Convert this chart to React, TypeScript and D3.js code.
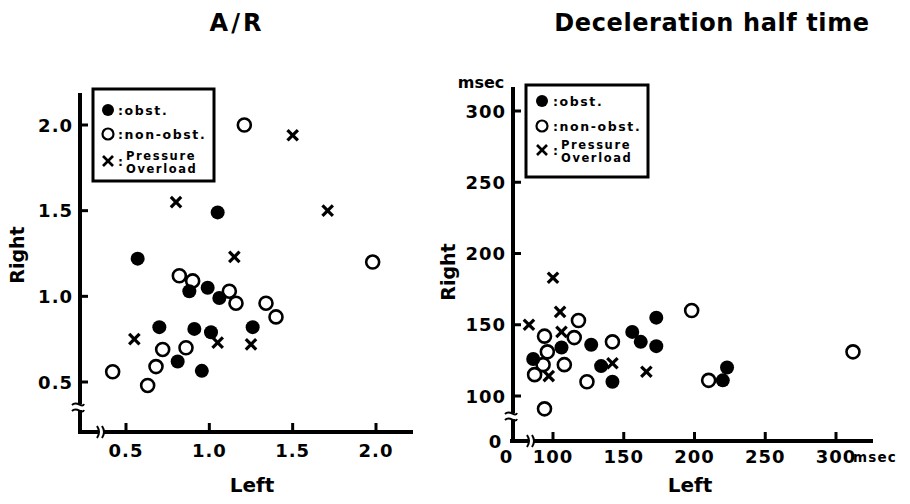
import React from "react";
import * as d3 from "d3";

// ---------- data ----------
const arTickValues = [0.5, 1.0, 1.5, 2.0];
const arTickLabels = ["0.5", "1.0", "1.5", "2.0"];

const dhtTickValues = [100, 150, 200, 250, 300];
const dhtXTickLabels = ["100", "150", "200", "250", "300"];
const dhtYTickLabels = ["100", "150", "200", "250", "300"];

// A/R panel
const arObstLeft = [1.05, 0.57, 0.88, 0.99, 1.06, 0.7, 0.91, 1.01, 1.26, 0.81, 0.955];
const arObstRight = [1.49, 1.22, 1.03, 1.05, 0.99, 0.82, 0.81, 0.79, 0.82, 0.62, 0.565];
const arNonLeft = [1.21, 1.98, 0.82, 0.9, 1.12, 1.16, 1.34, 1.4, 0.72, 0.86, 0.68, 0.42, 0.63];
const arNonRight = [2.0, 1.2, 1.12, 1.09, 1.03, 0.96, 0.96, 0.88, 0.69, 0.7, 0.59, 0.56, 0.48];
const arPoLeft = [1.5, 0.8, 1.71, 1.15, 0.55, 1.05, 1.25];
const arPoRight = [1.94, 1.55, 1.5, 1.23, 0.75, 0.73, 0.72];

// Deceleration half time panel (msec)
const dhtObstLeft = [86, 106, 127, 134, 142, 156, 162, 173, 173, 220, 223];
const dhtObstRight = [126, 134, 136, 121, 110, 145, 138, 155, 135, 111, 120];
const dhtNonLeft = [94, 96, 93, 87, 94, 108, 115, 118, 124, 142, 198, 210, 312];
const dhtNonRight = [142, 131, 122, 115, 91, 122, 141, 153, 110, 138, 160, 111, 131];
const dhtPoLeft = [100, 83, 105, 106, 97, 142, 166];
const dhtPoRight = [183, 150, 159, 145, 114, 123, 117];

const titles = ["A/R", "Deceleration half time"];
const legendObst = ":obst.";
const legendNon = ":non-obst.";
const legendPo = ["Pressure", "Overload"];

const FONT = "'DejaVu Sans', sans-serif";

type Cfg = {
  title: string;
  titleX: number;
  titleSpacing: number;
  x: d3.ScaleLinear<number, number>;
  y: d3.ScaleLinear<number, number>;
  axisX: number;
  axisY: number;
  cornerX: number;
  yTop: number;
  xRight: number;
  yBreak: number;
  xBreak: number;
  xTicks: number[];
  xLabels: string[];
  yTicks: number[];
  yLabels: string[];
  xLabelBase: number;
  yLabelRight: number;
  obst: [number[], number[]];
  non: [number[], number[]];
  po: [number[], number[]];
  legend: { x0: number; y0: number; x1: number; y1: number; sx: number; rows: number[]; tx: number };
  rightLabel: { x: number; y: number };
  leftLabel: { x: number; y: number };
};

function Cross({ cx, cy, s, w }: { cx: number; cy: number; s: number; w: number }) {
  return (
    <g stroke="#000" strokeWidth={w} strokeLinecap="butt">
      <line x1={cx - s} y1={cy - s} x2={cx + s} y2={cy + s} />
      <line x1={cx - s} y1={cy + s} x2={cx + s} y2={cy - s} />
    </g>
  );
}

function Panel({ c, extra }: { c: Cfg; extra?: React.ReactNode }) {
  const L = c.legend;
  return (
    <g>
      <text x={c.titleX} y={31} textAnchor="middle" fontFamily={FONT} fontWeight="bold" fontSize={24} letterSpacing={c.titleSpacing}>
        {c.title}
      </text>
      {/* axes */}
      <g stroke="#000" fill="none">
        <line x1={c.axisX} y1={c.yTop} x2={c.axisX} y2={c.axisY + 2} strokeWidth={4} />
        <line x1={c.cornerX} y1={c.axisY} x2={c.xRight} y2={c.axisY} strokeWidth={4} />
        {c.yTicks.map((v) => (
          <line key={"yt" + v} x1={c.axisX} x2={c.axisX + 8} y1={c.y(v)} y2={c.y(v)} strokeWidth={3} />
        ))}
        {c.xTicks.map((v) => (
          <line key={"xt" + v} x1={c.x(v)} x2={c.x(v)} y1={c.axisY} y2={c.axisY - 9} strokeWidth={3} />
        ))}
      </g>
      {/* y axis break */}
      <rect x={c.axisX - 4} y={c.yBreak - 3} width={8} height={6} fill="#fff" />
      <g stroke="#000" strokeWidth={2} fill="none">
        <path d={`M${c.axisX - 8},${c.yBreak - 2} C${c.axisX - 3},${c.yBreak - 7} ${c.axisX + 2},${c.yBreak + 2} ${c.axisX + 4},${c.yBreak - 3}`} />
        <path d={`M${c.axisX - 8},${c.yBreak + 4} C${c.axisX - 3},${c.yBreak - 1} ${c.axisX + 2},${c.yBreak + 8} ${c.axisX + 4},${c.yBreak + 3}`} />
      </g>
      {/* x axis break */}
      <rect x={c.xBreak - 3} y={c.axisY - 4} width={6} height={8} fill="#fff" />
      <g stroke="#000" strokeWidth={2} fill="none">
        <path d={`M${c.xBreak - 4},${c.axisY - 6} Q${c.xBreak},${c.axisY} ${c.xBreak - 4},${c.axisY + 6}`} />
        <path d={`M${c.xBreak + 1},${c.axisY - 6} Q${c.xBreak + 5},${c.axisY} ${c.xBreak + 1},${c.axisY + 6}`} />
      </g>
      {/* tick labels */}
      <g fontFamily={FONT} fontWeight="bold" fontSize={18} letterSpacing={1}>
        {c.xTicks.map((v, i) => (
          <text key={"xl" + v} x={c.x(v)} y={c.xLabelBase} textAnchor="middle">
            {c.xLabels[i]}
          </text>
        ))}
        {c.yTicks.map((v, i) => (
          <text key={"yl" + v} x={c.yLabelRight} y={c.y(v) + 6.5} textAnchor="end">
            {c.yLabels[i]}
          </text>
        ))}
      </g>
      {/* axis labels */}
      <text
        transform={`translate(${c.rightLabel.x},${c.rightLabel.y}) rotate(-90)`}
        textAnchor="middle"
        fontFamily={FONT}
        fontWeight="bold"
        fontSize={19}
      >
        Right
      </text>
      <text x={c.leftLabel.x} y={c.leftLabel.y} textAnchor="middle" fontFamily={FONT} fontWeight="bold" fontSize={20}>
        Left
      </text>
      {/* points */}
      {c.non[0].map((v, i) => (
        <circle key={"n" + i} cx={c.x(v)} cy={c.y(c.non[1][i])} r={6.5} fill="#fff" stroke="#000" strokeWidth={2.6} />
      ))}
      {c.obst[0].map((v, i) => (
        <circle key={"o" + i} cx={c.x(v)} cy={c.y(c.obst[1][i])} r={7} fill="#000" />
      ))}
      {c.po[0].map((v, i) => (
        <Cross key={"p" + i} cx={c.x(v)} cy={c.y(c.po[1][i])} s={5.2} w={3.2} />
      ))}
      {/* legend */}
      <rect x={L.x0} y={L.y0} width={L.x1 - L.x0} height={L.y1 - L.y0} fill="#fff" stroke="#000" strokeWidth={3} />
      <circle cx={L.sx} cy={L.rows[0]} r={6} fill="#000" />
      <circle cx={L.sx} cy={L.rows[1]} r={5.5} fill="#fff" stroke="#000" strokeWidth={2.2} />
      <Cross cx={L.sx} cy={L.rows[2]} s={5} w={2.6} />
      <g fontFamily={FONT} fontWeight="bold">
        <text x={L.tx} y={L.rows[0] + 5} fontSize={12.5} letterSpacing={1.6}>
          {legendObst}
        </text>
        <text x={L.tx} y={L.rows[1] + 5} fontSize={12.5} letterSpacing={1.6}>
          {legendNon}
        </text>
        <text x={L.tx} y={L.rows[2] + 5} fontSize={12.5}>
          :
        </text>
        <text x={L.tx + 8} y={L.rows[2] - 1} fontSize={11.5} letterSpacing={1.6}>
          {legendPo[0]}
        </text>
        <text x={L.tx + 8} y={L.rows[2] + 12} fontSize={11.5} letterSpacing={1.6}>
          {legendPo[1]}
        </text>
      </g>
      {extra}
    </g>
  );
}

export default function App() {
  const xA = d3.scaleLinear().domain([0.5, 2.0]).range([126, 376]);
  const yA = d3.scaleLinear().domain([0.5, 2.0]).range([382, 125]);
  const xD = d3.scaleLinear().domain([100, 300]).range([553, 836]);
  const yD = d3.scaleLinear().domain([100, 300]).range([396, 111]);

  const cA: Cfg = {
    title: titles[0],
    titleX: 237,
    titleSpacing: 3,
    x: xA,
    y: yA,
    axisX: 80,
    axisY: 432,
    cornerX: 78,
    yTop: 93,
    xRight: 413,
    yBreak: 407,
    xBreak: 101,
    xTicks: arTickValues,
    xLabels: arTickLabels,
    yTicks: arTickValues,
    yLabels: arTickLabels,
    xLabelBase: 457,
    yLabelRight: 73,
    obst: [arObstLeft, arObstRight],
    non: [arNonLeft, arNonRight],
    po: [arPoLeft, arPoRight],
    legend: { x0: 93, y0: 89, x1: 214, y1: 181, sx: 108, rows: [110, 134, 161], tx: 118 },
    rightLabel: { x: 24, y: 255 },
    leftLabel: { x: 252, y: 492 },
  };

  const cD: Cfg = {
    title: titles[1],
    titleX: 712,
    titleSpacing: 0.6,
    x: xD,
    y: yD,
    axisX: 513,
    axisY: 441,
    cornerX: 510,
    yTop: 87,
    xRight: 873,
    yBreak: 416,
    xBreak: 531,
    xTicks: dhtTickValues,
    xLabels: dhtXTickLabels,
    yTicks: dhtTickValues,
    yLabels: dhtYTickLabels,
    xLabelBase: 463,
    yLabelRight: 506,
    obst: [dhtObstLeft, dhtObstRight],
    non: [dhtNonLeft, dhtNonRight],
    po: [dhtPoLeft, dhtPoRight],
    legend: { x0: 526, y0: 85, x1: 648, y1: 177, sx: 542, rows: [101, 126, 150], tx: 553 },
    rightLabel: { x: 455, y: 272 },
    leftLabel: { x: 690, y: 492 },
  };

  const extraD = (
    <g fontFamily={FONT} fontWeight="bold">
      <text x={481} y={88} fontSize={16} textAnchor="middle">msec</text>
      <text x={853} y={462} fontSize={13.5} letterSpacing={1.2}>msec</text>
      <text x={495} y={448} fontSize={18} textAnchor="middle">0</text>
      <text x={506} y={463} fontSize={18} textAnchor="middle">0</text>
    </g>
  );

  return (
    <svg
      width={910}
      height={504}
      style={{ position: "absolute", left: 0, top: 0, background: "#fff" }}
    >
      <rect width={910} height={504} fill="#fff" />
      <Panel c={cA} />
      <Panel c={cD} extra={extraD} />
    </svg>
  );
}
